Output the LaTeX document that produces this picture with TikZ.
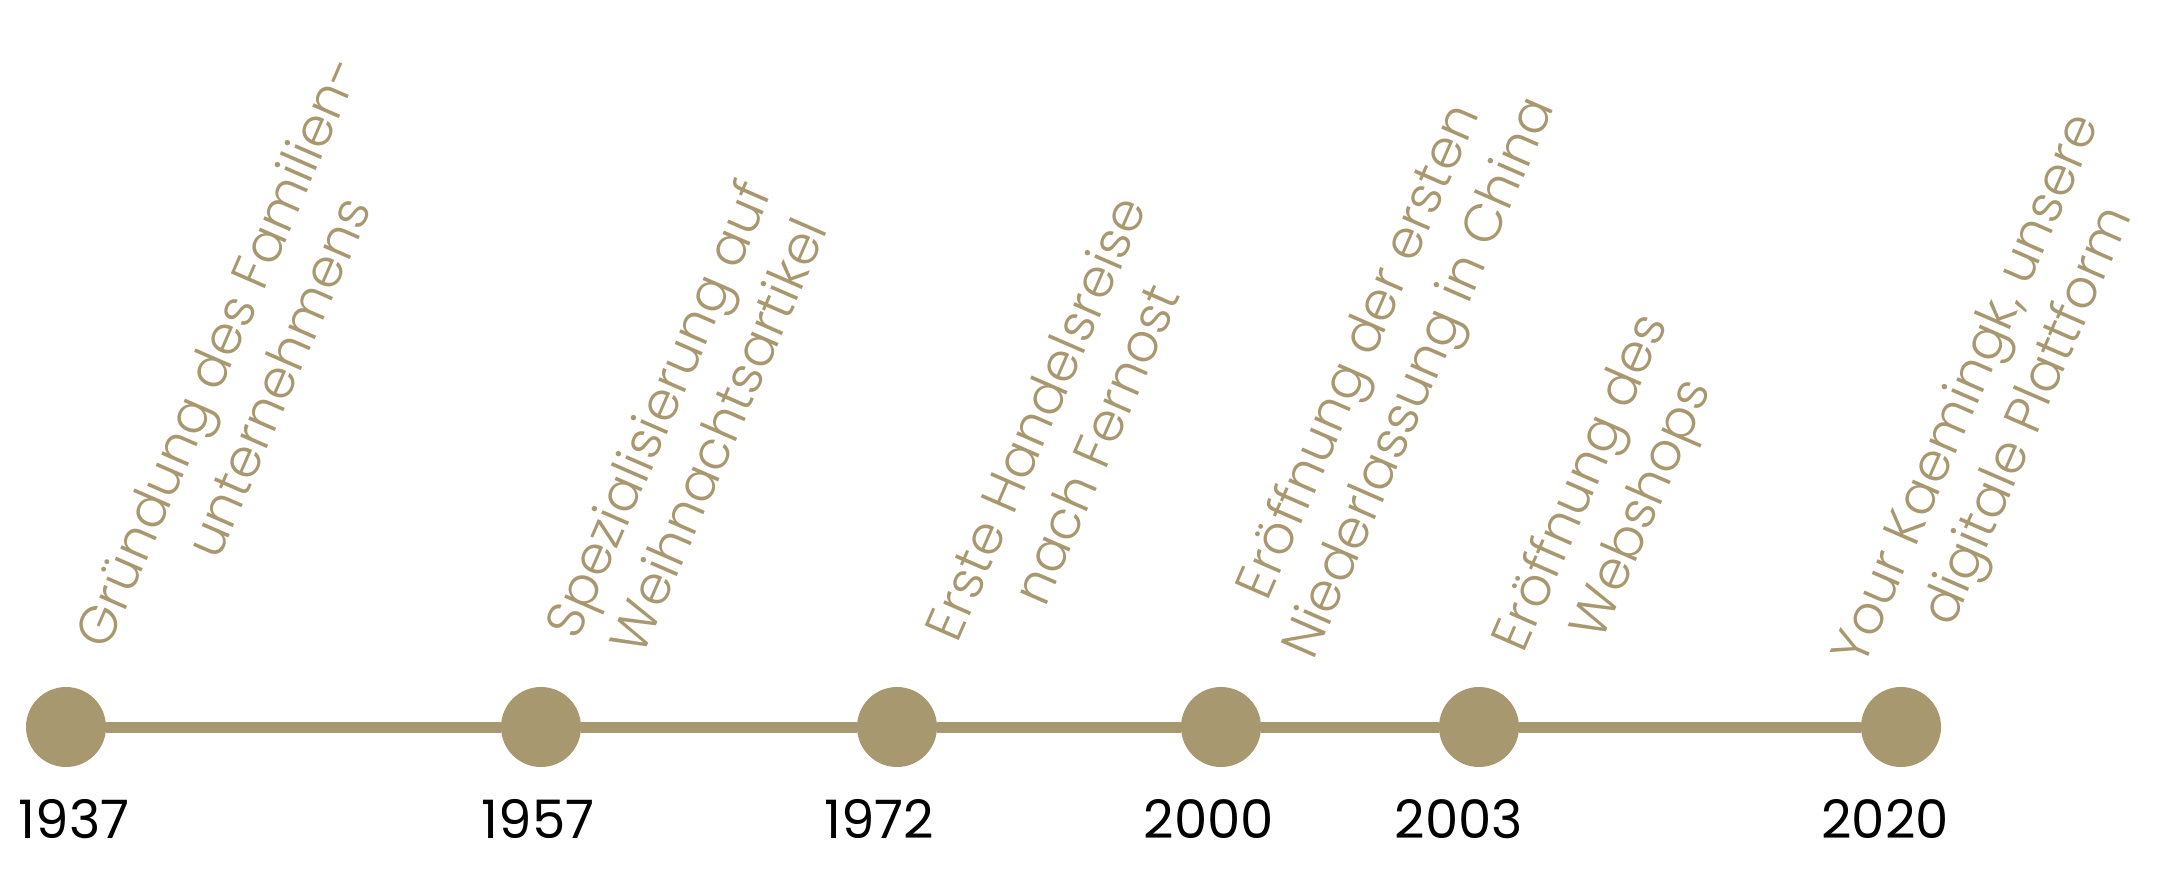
\documentclass[tikz,border=0pt]{standalone}
\usepackage{fontspec}
\setmainfont{Poppins}
\newfontfamily\lightfont{Poppins}[UprightFont={* Light}]
\definecolor{gold}{RGB}{168,152,112}
\tikzset{
  dot/.style={circle, fill=gold, minimum size=80pt, inner sep=0pt},
  year/.style={font=\fontsize{53}{60}\selectfont, text=black, anchor=base, inner sep=0pt},
  event/.style={font=\lightfont\fontsize{53}{66}\selectfont, text=gold, align=center, rotate=66.5, inner sep=0pt},
  timeline/.style={draw=gold, line width=11pt}
}
\begin{document}
\begin{tikzpicture}[x=1pt,y=-1pt]
\useasboundingbox (0,0) rectangle (2163,881);
\node[dot] (d1) at (66,727) {};
\node[dot] (d2) at (541,727) {};
\node[dot] (d3) at (897,727) {};
\node[dot] (d4) at (1221,727) {};
\node[dot] (d5) at (1479,727) {};
\node[dot] (d6) at (1901,727) {};
\draw[timeline] (d1) -- (d2) (d2) -- (d3) (d3) -- (d4) (d4) -- (d5) (d5) -- (d6);
\node[year] (y1) at (74,838) {1937};
\node[year] (y2) at (538,838) {1957};
\node[year] (y3) at (879,838) {1972};
\node[year] (y4) at (1209,838) {2000};
\node[year] (y5) at (1459,838) {2003};
\node[year] (y6) at (1885,838) {2020};
\node[event] (e1) at (247,364) {Gründung des Familien-\\unternehmens};
\node[event] (e2) at (687,422) {Spezialisierung auf\\Weihnachtsartikel};
\node[event] (e3) at (1065,431) {Erste Handelsreise\\nach Fernost};
\node[event] (e4) at (1392,366) {Eröffnung der ersten\\Niederlassung in China};
\node[event] (e5) at (1614,497) {Eröffnung des\\Webshops};
\node[event] (e6) at (2000,404) {Your Kaemingk, unsere\\digitale Plattform};
\end{tikzpicture}
\end{document}
